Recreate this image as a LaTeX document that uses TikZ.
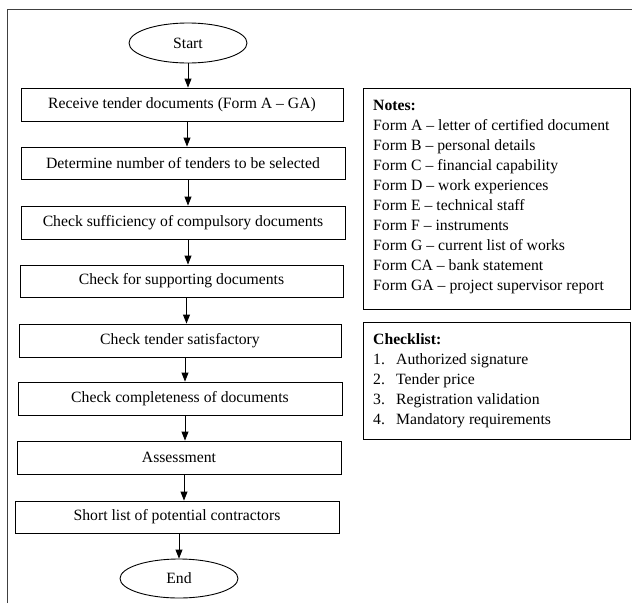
\documentclass[tikz,border=0pt]{standalone}
\usepackage{fontspec}
\setmainfont{Liberation Serif}
\usetikzlibrary{shapes.geometric,arrows.meta}
\begin{document}
\begin{tikzpicture}[x=1pt,y=-1pt,
  every node/.style={font=\fontsize{15.7}{20}\selectfont},
  box/.style={draw=black, line width=0.9pt, minimum width=323pt, minimum height=33pt, inner sep=0pt},
  term/.style={draw=black, ellipse, line width=0.9pt, minimum width=118pt, minimum height=40pt, inner sep=0pt},
  arr/.style={-{Triangle[width=7pt,length=9pt]}, line width=0.9pt},
  frame/.style={draw=black!75, line width=0.9pt},
  panel/.style={draw=black, line width=0.9pt, anchor=north west, inner sep=0pt, minimum width=267pt},
  paneltext/.style={anchor=north west, inner sep=0pt, align=left}
]
\useasboundingbox (0,0) rectangle (632,603);
% outer frame (top and left edges)
\draw[frame] (7,603) -- (7,9) -- (632,9);

% flowchart
\node[term] (start) at (188,43) {Start};
\node[box, minimum width=322pt] (b1) at (182,104.5) {Receive tender documents (Form A – GA)};
\node[box, minimum width=324pt, minimum height=32pt] (b2) at (183,163) {Determine number of tenders to be selected};
\node[box, minimum width=324pt] (b3) at (183,222.5) {Check sufficiency of compulsory documents};
\node[box, minimum height=32pt] (b4) at (181.5,281) {Check for supporting documents};
\node[box, minimum width=322pt] (b5) at (180,340.5) {Check tender satisfactory};
\node[box, minimum width=324pt] (b6) at (180,398.5) {Check completeness of documents};
\node[box, minimum width=324pt] (b7) at (179,457.5) {Assessment};
\node[box, minimum width=324pt, minimum height=32pt] (b8) at (177,517) {Short list of potential contractors};
\node[term, minimum height=39pt] (stop) at (179,578.5) {End};

\draw[arr] (start.south) -- (start.south |- b1.north);
\foreach \a/\b in {b1/b2,b2/b3,b3/b4,b4/b5,b5/b6,b6/b7,b7/b8}{
  \path ([xshift=5pt]\a.south) coordinate (s);
  \draw[arr] (s) -- (s |- \b.north);
}
\draw[arr] (b8.south -| stop.north) -- (stop.north);

% notes panel
\node[panel, minimum height=221pt] (notes) at (363,88) {};
\node[paneltext] (notestext) at (373,99.6) {\textbf{Notes:}\\
Form A – letter of certified document\\
Form B – personal details\\
Form C – financial capability\\
Form D – work experiences\\
Form E – technical staff\\
Form F – instruments\\
Form G – current list of works\\
Form CA – bank statement\\
Form GA – project supervisor report};

% checklist panel
\node[panel, minimum height=117pt] (check) at (363,322) {};
\node[paneltext] (checktext) at (373,333.3) {\textbf{Checklist:}\\
\makebox[23pt][l]{1.}Authorized signature\\
\makebox[23pt][l]{2.}Tender price\\
\makebox[23pt][l]{3.}Registration validation\\
\makebox[23pt][l]{4.}Mandatory requirements};
\end{tikzpicture}
\end{document}
